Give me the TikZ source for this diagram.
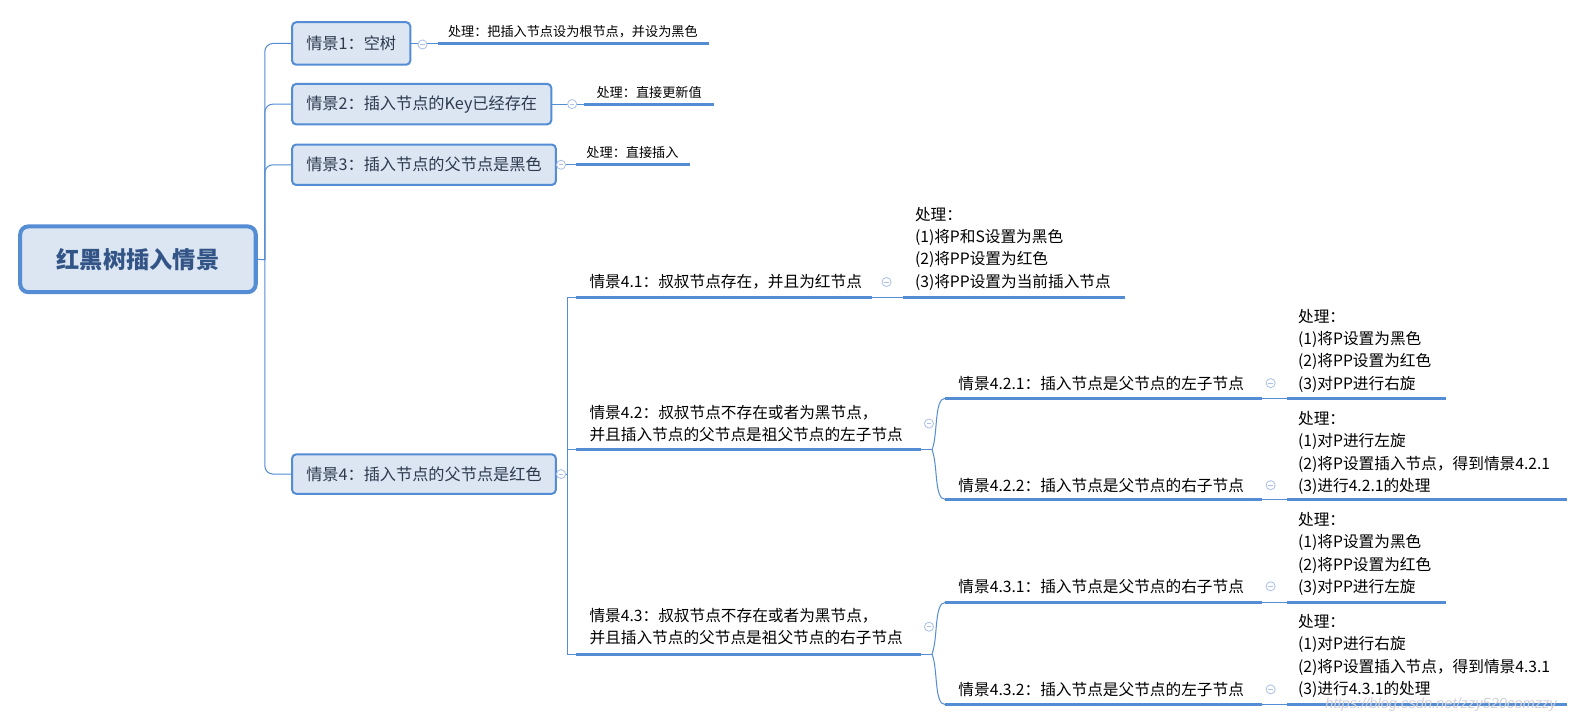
\documentclass[tikz,border=0pt]{standalone}
\usepackage{fontspec}
\setmainfont{Noto Sans CJK SC}
\newfontfamily\wmfont{Liberation Sans}
\definecolor{mblue}{RGB}{84,141,212}
\definecolor{mfill}{RGB}{220,230,242}
\definecolor{boxtext}{RGB}{45,58,78}
\definecolor{roottext}{RGB}{50,84,135}
\definecolor{foldc}{RGB}{170,192,230}
\definecolor{wm}{RGB}{210,210,215}
\begin{document}
\begin{tikzpicture}[x=1pt,y=-1pt,
  conn/.style={draw=mblue, line width=1},
  uline/.style={draw=mblue, line width=3},
  box/.style={draw=mblue, fill=mfill, line width=2, rounded corners=4, inner xsep=14, minimum height=40, anchor=west, font=\fontsize{16}{20}\selectfont, text=boxtext},
  topic/.style={anchor=base west, inner sep=0, align=left, font=\fontsize{15.5}{22}\selectfont, text=black},
  small/.style={anchor=base west, inner sep=0, font=\fontsize{13}{16}\selectfont, text=black},
  fold/.style={circle, draw=foldc, fill=white, line width=0.8, minimum size=9, inner sep=0,
    path picture={\draw[foldc, line width=0.8] ([xshift=-2.2pt]path picture bounding box.center) -- ([xshift=2.2pt]path picture bounding box.center);}}
]
\fill[white] (0,0) rectangle (1568,714);
\useasboundingbox (0,0) rectangle (1568,714);

% root
\node[draw=mblue, fill=mfill, line width=4, rounded corners=8, minimum width=233, minimum height=65,
  font=\fontsize{23}{26}\selectfont\bfseries, text=roottext] (root) at (136.5,256.5) {红黑树插入情景};

% level 1 boxes
\node[box, minimum height=42] (s1) at (288,43) {情景1：空树};
\node[box] (s2) at (288,103) {情景2：插入节点的Key已经存在};
\node[box] (s3) at (288,163) {情景3：插入节点的父节点是黑色};
\node[box, minimum height=39] (s4) at (288,469) {情景4：插入节点的父节点是红色};

\coordinate (trunk) at (262,257);
\draw[conn] (root.east) -- (trunk);
\foreach \s in {s1,s2,s3,s4}{
  \draw[conn, rounded corners=8] (trunk) |- (\s.west);
}

% leaves of level 1
\coordinate (a1) at (433,43);  \coordinate (b1) at (701,43);
\coordinate (a2) at (578,103); \coordinate (b2) at (706,103);
\coordinate (a3) at (570,163); \coordinate (b3) at (683,163);
\draw[conn] (s1.east) -- (a1);
\draw[conn] (s2.east) -- (a2);
\draw[conn] (s3.east) -- (a3);
\draw[uline] (a1) -- (b1);
\draw[uline] (a2) -- (b2);
\draw[uline] (a3) -- (b3);
\node[small] (p1) at (443,36) {处理：把插入节点设为根节点，并设为黑色};
\node[small] (p2) at (590,96) {处理：直接更新值};
\node[small] (p3) at (580,156) {处理：直接插入};
\node[fold] (f1) at (418,44) {};
\node[fold] (f2) at (566,103) {};
\node[fold] (f3) at (555,163) {};

% level 2 under scene 4
\coordinate (a41) at (570,294); \coordinate (b41) at (863,294);
\coordinate (a42) at (570,445); \coordinate (b42) at (911,445);
\coordinate (a43) at (570,647); \coordinate (b43) at (911,647);
\coordinate (j4) at (561,469);
\draw[conn] (s4.east) -- (j4);
\draw[conn] (j4) |- (a41);
\draw[conn] (j4) |- (a42);
\draw[conn] (j4) |- (a43);
\draw[uline] (a41) -- (b41);
\draw[uline] (a42) -- (b42);
\draw[uline] (a43) -- (b43);
\node[topic] (t41) at (583,284) {情景4.1：叔叔节点存在，并且为红节点};
\node[topic] (t42) at (583,436) {情景4.2：叔叔节点不存在或者为黑节点，\\并且插入节点的父节点是祖父节点的左子节点};
\node[topic] (t43) at (583,637) {情景4.3：叔叔节点不存在或者为黑节点，\\并且插入节点的父节点是祖父节点的右子节点};
\node[fold] (s4f) at (555,469) {};

% leaf of 4.1
\coordinate (la41) at (893,294); \coordinate (lb41) at (1113,294);
\draw[conn] (b41) -- (la41);
\draw[uline] (la41) -- (lb41);
\node[topic] (l41) at (905,284) {处理：\\(1)将P和S设置为黑色\\(2)将PP设置为红色\\(3)将PP设置为当前插入节点};
\node[fold] (f41) at (877,279) {};

% level 3
\coordinate (a421) at (935,394); \coordinate (b421) at (1248,394);
\coordinate (a422) at (935,494); \coordinate (b422) at (1248,494);
\coordinate (a431) at (935,596); \coordinate (b431) at (1248,596);
\coordinate (a432) at (935,697); \coordinate (b432) at (1248,697);
\coordinate (j42) at (922,445);
\coordinate (j43) at (922,647);
\draw[conn] (b42) -- (j42);
\draw[conn] (b43) -- (j43);
\draw[conn] (j42) .. controls (928,430) and (924,394) .. (a421);
\draw[conn] (j42) .. controls (928,460) and (924,494) .. (a422);
\draw[conn] (j43) .. controls (928,632) and (924,596) .. (a431);
\draw[conn] (j43) .. controls (928,662) and (924,697) .. (a432);
\foreach \n in {421,422,431,432}{ \draw[uline] (a\n) -- (b\n); }
\node[topic] (t421) at (948,385) {情景4.2.1：插入节点是父节点的左子节点};
\node[topic] (t422) at (948,486) {情景4.2.2：插入节点是父节点的右子节点};
\node[topic] (t431) at (948,586) {情景4.3.1：插入节点是父节点的右子节点};
\node[topic] (t432) at (948,688) {情景4.3.2：插入节点是父节点的左子节点};
\node[fold] (f42) at (919,419) {};
\node[fold] (f43) at (919,620) {};

% leaves level 4
\coordinate (la421) at (1273,394); \coordinate (lb421) at (1430,394);
\coordinate (la422) at (1273,494); \coordinate (lb422) at (1550,494);
\coordinate (la431) at (1273,596); \coordinate (lb431) at (1430,596);
\coordinate (la432) at (1273,697); \coordinate (lb432) at (1550,697);
\foreach \n in {421,422,431,432}{
  \draw[conn] (b\n) -- (la\n);
  \draw[uline] (la\n) -- (lb\n);
}
\node[topic] (l421) at (1284,385) {处理：\\(1)将P设置为黑色\\(2)将PP设置为红色\\(3)对PP进行右旋};
\node[topic] (l422) at (1284,486) {处理：\\(1)对P进行左旋\\(2)将P设置插入节点，得到情景4.2.1\\(3)进行4.2.1的处理};
\node[topic] (l431) at (1284,586) {处理：\\(1)将P设置为黑色\\(2)将PP设置为红色\\(3)对PP进行左旋};
\node[topic] (l432) at (1284,687) {处理：\\(1)对P进行右旋\\(2)将P设置插入节点，得到情景4.3.1\\(3)进行4.3.1的处理};
\node[fold] (f421) at (1257,379) {};
\node[fold] (f422) at (1257,480) {};
\node[fold] (f431) at (1257,580) {};
\node[fold] (f432) at (1257,682) {};

% watermark
\node[anchor=base west, inner sep=0, font=\wmfont\itshape\fontsize{14.5}{16}\selectfont, text=wm] (wmk) at (1311,701) {https://blog.csdn.net/zzy520comzzy};
\end{tikzpicture}
\end{document}
